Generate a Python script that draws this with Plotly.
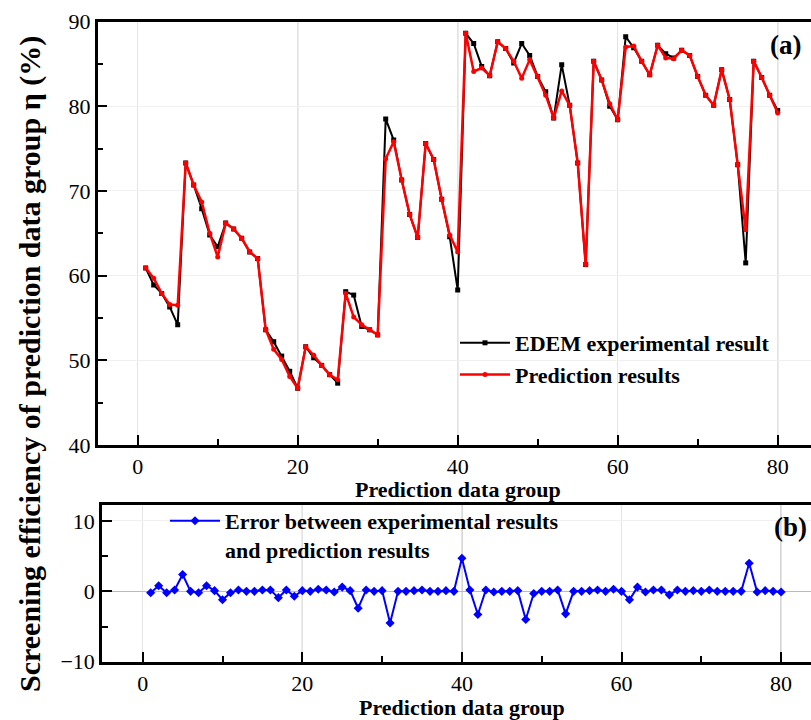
import plotly.graph_objects as go

groups = list(range(1, 81))

edem_result = [
    60.9, 58.9, 57.9, 56.3, 54.2, 73.3, 70.7, 67.9, 64.8, 63.4,
    66.2, 65.5, 64.4, 62.8, 62.0, 53.6, 52.2, 50.5, 48.7, 46.7,
    51.6, 50.3, 49.4, 48.3, 47.3, 58.1, 57.7, 54.0, 53.6, 53.0,
    78.5, 76.0, 71.3, 67.2, 64.5, 75.6, 73.7, 69.0, 64.6, 58.3,
    88.6, 87.4, 84.7, 83.6, 87.6, 86.8, 85.1, 87.4, 86.0, 83.5,
    81.7, 78.6, 84.9, 80.1, 73.3, 61.3, 85.3, 83.1, 80.0, 78.4,
    88.2, 86.9, 85.3, 83.7, 87.2, 86.2, 85.7, 86.6, 86.0, 83.5,
    81.3, 80.1, 84.3, 80.8, 73.1, 61.5, 85.3, 83.4, 81.3, 79.5,
]

prediction = [
    60.9, 59.7, 57.9, 56.6, 56.5, 73.3, 70.7, 68.7, 65.0, 62.2,
    66.2, 65.5, 64.4, 62.8, 62.0, 53.6, 51.3, 50.1, 48.1, 46.7,
    51.6, 50.6, 49.4, 48.3, 47.7, 57.9, 55.1, 54.2, 53.6, 53.0,
    73.8, 75.8, 71.3, 67.2, 64.5, 75.6, 73.7, 69.0, 64.8, 62.8,
    88.6, 84.1, 84.5, 83.6, 87.6, 86.8, 85.3, 83.3, 85.5, 83.5,
    81.3, 78.6, 81.8, 80.1, 73.3, 61.3, 85.3, 83.1, 80.3, 78.4,
    87.0, 87.1, 85.3, 83.7, 87.2, 85.7, 85.6, 86.6, 86.0, 83.5,
    81.3, 80.1, 84.3, 80.8, 73.1, 65.4, 85.3, 83.4, 81.3, 79.2,
]

error = [
    -0.2, 0.8, -0.2, 0.2, 2.4, 0.0, -0.2, 0.8, 0.1, -1.2,
    -0.2, 0.2, 0.0, 0.0, 0.2, 0.2, -0.9, 0.2, -0.7, 0.1,
    0.0, 0.3, 0.2, -0.1, 0.6, 0.1, -2.4, 0.2, 0.0, 0.1,
    -4.5, 0.0, 0.0, 0.1, 0.2, 0.0, 0.0, 0.1, 0.0, 4.7,
    0.2, -3.3, 0.2, -0.1, 0.0, 0.0, 0.1, -4.0, -0.3, 0.0,
    0.0, 0.2, -3.2, 0.0, 0.0, 0.1, 0.2, 0.0, 0.3, 0.0,
    -1.2, 0.6, -0.1, 0.2, 0.2, -0.5, 0.2, 0.0, 0.1, 0.0,
    0.2, 0.0, 0.0, 0.0, 0.0, 4.0, -0.1, 0.1, 0.0, -0.1,
]

x_ticks = [0, 20, 40, 60, 80]
y_ticks_a = [40, 50, 60, 70, 80, 90]
y_ticks_b = [-10, 0, 10]

FONT = "Liberation Serif"
# figure is slightly wider than the 811px window: its right border is cropped, as in the reference
W, H = 818, 720

fig = go.Figure()
fig.add_trace(go.Scatter(
    x=groups, y=edem_result, mode="lines+markers",
    name="<b>EDEM experimental result</b>",
    line=dict(color="black", width=2),
    marker=dict(symbol="square", size=5, color="black"),
    xaxis="x", yaxis="y", legend="legend",
))
fig.add_trace(go.Scatter(
    x=groups, y=prediction, mode="lines+markers",
    name="<b>Prediction results</b>",
    line=dict(color="#ff0000", width=2.5),
    marker=dict(symbol="circle", size=5, color="#ff0000"),
    xaxis="x", yaxis="y", legend="legend",
))
fig.add_trace(go.Scatter(
    x=groups, y=error, mode="lines+markers",
    name="<b>Error between experimental results<br>and prediction results</b>",
    line=dict(color="#0000ff", width=2),
    marker=dict(symbol="diamond", size=7, color="#0000ff"),
    xaxis="x2", yaxis="y2", legend="legend2",
))

tickfont = dict(family=FONT, size=22, color="black")
axis_common = dict(
    showline=True, linecolor="black", linewidth=2.5,
    ticks="inside", ticklen=10, tickwidth=2, tickcolor="black",
    tickfont=tickfont, showgrid=True, zeroline=False, automargin=False,
    tickprefix="<b>", ticksuffix="</b>",
)

fig.update_layout(
    width=W, height=H,
    margin=dict(l=0, r=0, t=0, b=0, pad=0),
    paper_bgcolor="white", plot_bgcolor="white",
    font=dict(family=FONT, color="black"),
    xaxis=dict(axis_common, domain=[97.7 / W, 1], range=[-5, -5 + (W - 97.7) / 8.0],
               tickvals=x_ticks, mirror=True, gridcolor="#e4e4e4",
               minor=dict(ticks="inside", ticklen=6, tickwidth=2, dtick=10, tick0=0, showgrid=False),
               anchor="y"),
    yaxis=dict(axis_common, domain=[(H - 445) / H, (H - 21.5) / H], range=[40, 90],
               tickvals=y_ticks_a, gridcolor="#f0f0f0",
               minor=dict(ticks="inside", ticklen=6, tickwidth=2, dtick=5, tick0=0, showgrid=False),
               anchor="x"),
    xaxis2=dict(axis_common, domain=[102 / W, 1], range=[-5.1, -5.1 + (W - 102) / 7.98],
                tickvals=x_ticks, mirror=True, gridcolor="#e4e4e4",
                minor=dict(ticks="inside", ticklen=6, tickwidth=2, dtick=10, tick0=0, showgrid=False),
                anchor="y2"),
    yaxis2=dict(axis_common, domain=[(H - 661.7) / H, (H - 505) / H], range=[-10, 12.27],
                tickvals=y_ticks_b, gridcolor="#f0f0f0",
                zeroline=True, zerolinecolor="#bbbbbb", zerolinewidth=1,
                minor=dict(ticks="inside", ticklen=6, tickwidth=2, dtick=5, tick0=0, showgrid=False),
                anchor="x2"),
    legend=dict(x=455 / W, y=(H - 322) / H, xanchor="left", yanchor="top",
                bgcolor="rgba(0,0,0,0)", font=dict(family=FONT, size=22, color="black"),
                itemwidth=50, tracegroupgap=0),
    legend2=dict(x=165 / W, y=(H - 500) / H, xanchor="left", yanchor="top",
                 bgcolor="rgba(0,0,0,0)", font=dict(family=FONT, size=22, color="black"),
                 itemwidth=50, valign="top"),
    showlegend=True,
)

# darker vertical grid lines
for xv in [20, 40, 80]:
    fig.add_shape(type="line", xref="x", yref="y domain", x0=xv, x1=xv, y0=0, y1=1,
                  line=dict(color="#999999", width=1), layer="below")
    fig.add_shape(type="line", xref="x2", yref="y2 domain", x0=xv, x1=xv, y0=0, y1=1,
                  line=dict(color="#999999", width=1), layer="below")

ann_font = dict(family=FONT, size=22, color="black")
fig.add_annotation(text="<b>Prediction data group</b>", xref="x", yref="paper",
                   x=40, y=(H - 489) / H, showarrow=False, font=ann_font,
                   xanchor="center", yanchor="middle")
fig.add_annotation(text="<b>Prediction data group</b>", xref="x2", yref="paper",
                   x=40, y=(H - 707) / H, showarrow=False, font=ann_font,
                   xanchor="center", yanchor="middle")
fig.add_annotation(text="<b>Screening efficiency of prediction data group η (%)</b>",
                   xref="paper", yref="paper", x=30 / W, y=(H - 364) / H,
                   textangle=-90, showarrow=False,
                   font=dict(family=FONT, size=30, color="black"),
                   xanchor="center", yanchor="middle")
fig.add_annotation(text="<b>(a)</b>", xref="paper", yref="paper", x=785 / W, y=(H - 45) / H,
                   showarrow=False, font=dict(family=FONT, size=27, color="black"),
                   xanchor="center", yanchor="middle")
fig.add_annotation(text="<b>(b)</b>", xref="paper", yref="paper", x=790 / W, y=(H - 527) / H,
                   showarrow=False, font=dict(family=FONT, size=27, color="black"),
                   xanchor="center", yanchor="middle")

fig.write_html(
    "out.html",
    config={"displayModeBar": False},
    post_script="document.body.style.margin='0';document.body.style.overflow='hidden';",
)
